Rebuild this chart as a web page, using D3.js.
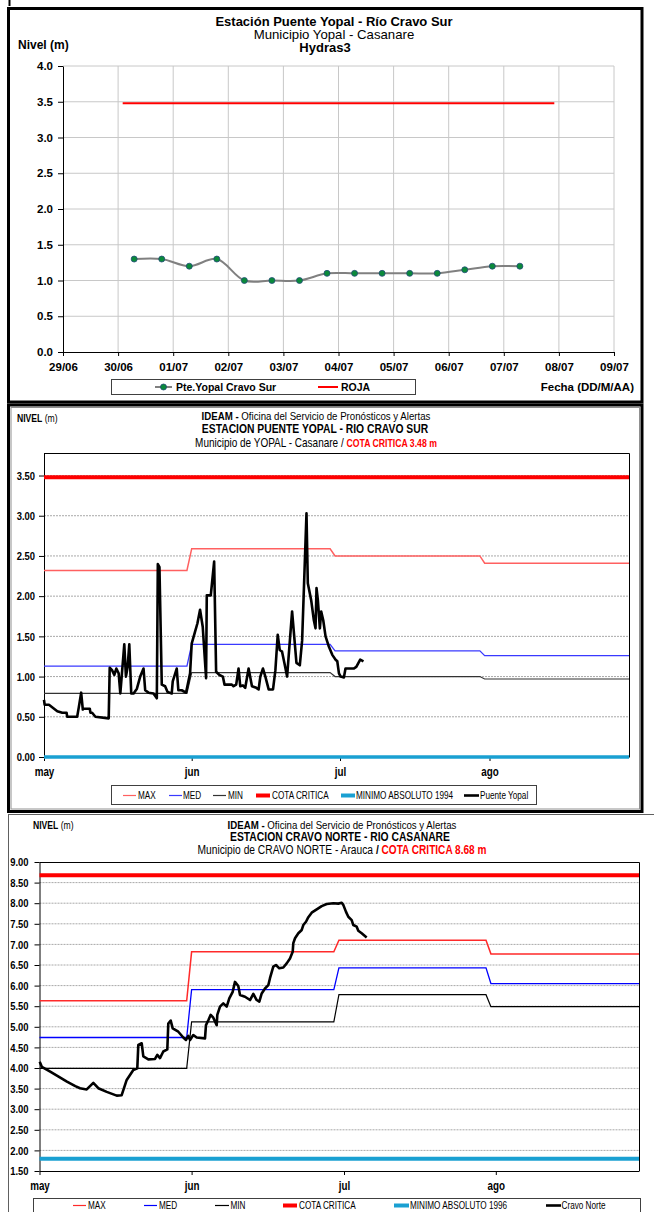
<!DOCTYPE html>
<html><head><meta charset="utf-8">
<script src="https://cdn.jsdelivr.net/npm/d3@7"></script>
<style>
body{margin:0;background:#fff}
svg{display:block}
.arial{font-family:"Liberation Sans",Arial,sans-serif}
.narrow{font-family:"Liberation Sans",Arial,sans-serif}
</style></head><body>
<svg id="c" width="654" height="1212"></svg>
<script>
// ---------------- Panel 1 data (Hydras3) ----------------
const p1Dates = ["2012-06-30T07:00","2012-06-30T19:00","2012-07-01T07:00","2012-07-01T19:00",
  "2012-07-02T07:00","2012-07-02T19:00","2012-07-03T07:00","2012-07-03T19:00","2012-07-04T07:00",
  "2012-07-04T19:00","2012-07-05T07:00","2012-07-05T19:00","2012-07-06T07:00","2012-07-06T19:00",
  "2012-07-07T07:00"];
const p1Values = [1.3,1.3,1.2,1.3,1.0,1.0,1.0,1.1,1.1,1.1,1.1,1.1,1.15,1.2,1.2];
const p1RojaDates = ["2012-06-30T02:00","2012-07-07T22:00"];
const p1RojaValue = 3.48;
const p1YTicks = [0,0.5,1,1.5,2,2.5,3,3.5,4];
const p1XDomain = ["2012-06-29T00:00","2012-07-09T00:00"];

// ---------------- shared month axis (days since 1 May) ----------------
const monthTickDays = [0,31,61,92];
const monthLabels = ["may","jun","jul","ago"];
const statDays = [0,30,31,59,60,90,91,121];

// ---------------- Panel 2 data (Puente Yopal) ----------------
const p2Max = [2.32,2.59,2.50,2.41];
const p2Med = [1.13,1.40,1.32,1.26];
const p2Min = [0.79,1.05,1.00,0.97];
const p2Cota = 3.48;
const p2Minimo = 0.0;
const p2YTicks = [0,0.5,1,1.5,2,2.5,3,3.5];
const p2Days = [0.00,0.14,1.04,2.79,3.83,4.74,4.87,6.96,7.31,7.80,8.15,8.36,9.61,9.75,10.10,10.79,
  13.58,13.79,14.28,14.76,15.18,15.67,16.02,16.36,16.85,17.20,17.55,17.90,18.31,18.80,19.50,20.19,
  20.89,21.24,21.94,22.98,23.68,23.89,24.23,24.72,25.42,25.91,26.81,27.02,27.86,28.20,28.90,29.81,
  30.66,31.00,31.68,32.15,32.69,33.23,33.91,34.05,34.86,35.54,35.94,36.62,37.30,37.64,39.12,39.46,
  40.00,40.48,40.82,41.36,41.83,42.51,43.19,44.07,44.54,44.88,45.42,45.90,46.57,47.45,47.93,48.40,
  48.81,49.28,49.75,50.30,51.31,52.19,52.87,53.34,54.22,54.49,55.17,55.71,56.05,56.25,56.52,56.93,
  57.20,57.61,58.08,58.76,59.44,60.11,60.45,60.79,61.13,61.81,62.14,63.16,63.84,64.38,65.19,65.87];
const p2Levels = [0.71,0.65,0.65,0.57,0.55,0.55,0.50,0.50,0.62,0.80,0.59,0.60,0.60,0.55,0.55,0.50,
  0.48,1.11,1.08,1.02,1.10,1.04,0.79,1.04,1.40,1.00,1.12,1.40,0.79,0.79,0.85,1.00,
  1.10,0.83,0.80,0.79,0.73,2.40,2.36,0.90,0.88,0.81,0.79,0.94,1.10,0.83,0.83,0.80,
  1.04,1.41,1.56,1.66,1.83,1.62,0.98,2.01,2.01,2.43,1.06,1.02,1.00,0.90,0.90,0.88,
  0.90,1.10,0.88,0.89,0.86,1.10,0.88,0.86,0.84,1.00,1.10,1.00,0.84,0.84,1.08,1.52,
  1.33,1.31,1.17,1.00,1.81,1.17,1.14,1.45,3.03,2.16,1.95,1.70,1.60,2.10,1.95,1.60,
  1.81,1.70,1.50,1.37,1.27,1.21,1.19,1.04,1.00,0.99,1.10,1.10,1.10,1.12,1.21,1.19];

// ---------------- Panel 3 data (Cravo Norte) ----------------
const p3Max = [5.63,6.82,7.10,6.77];
const p3Med = [4.74,5.90,6.43,6.05];
const p3Min = [3.99,5.12,5.78,5.49];
const p3Cota = 8.68;
const p3Minimo = 1.80;
const p3YTicks = [1.5,2,2.5,3,3.5,4,4.5,5,5.5,6,6.5,7,7.5,8,8.5,9];
const p3Days = [0.04,0.47,2.18,3.89,5.59,7.30,8.26,9.62,10.97,11.99,13.70,15.74,16.75,17.77,19.12,19.93,
  20.14,20.83,21.16,22.18,23.54,24.01,24.56,25.23,26.05,26.25,26.74,27.15,28.29,29.31,29.86,30.33,
  30.68,31.33,32.00,33.64,33.83,34.29,34.76,35.27,35.94,36.06,36.59,37.24,37.91,38.42,39.09,39.54,
  40.19,40.53,41.51,42.50,43.15,43.81,44.33,44.80,45.45,46.10,46.43,47.08,47.61,48.26,49.05,49.72,
  50.37,50.90,51.02,51.36,52.01,52.68,52.99,53.52,53.98,54.64,55.63,56.61,57.60,58.90,59.88,60.55,
  60.86,61.41,61.88,62.57,62.90,63.59,63.92,64.61,65.63];
const p3Levels = [4.15,4.03,3.91,3.79,3.67,3.56,3.51,3.48,3.64,3.51,3.42,3.33,3.34,3.71,3.95,3.99,
  4.56,4.60,4.28,4.21,4.22,4.32,4.24,4.40,4.45,5.08,5.15,4.96,4.88,4.74,4.68,4.78,
  4.68,4.80,4.74,4.72,5.04,5.16,5.29,5.22,5.04,5.29,5.49,5.57,5.49,5.69,5.85,6.09,
  5.99,5.77,5.73,5.65,5.80,5.65,5.61,5.81,5.93,6.01,6.18,6.46,6.50,6.42,6.44,6.54,
  6.66,6.82,7.03,7.15,7.27,7.35,7.47,7.55,7.66,7.77,7.85,7.93,7.98,8.00,7.99,8.01,
  7.96,7.79,7.67,7.59,7.47,7.43,7.33,7.27,7.17];

// ======================================================================
const NARROW = 0.82;
const svg = d3.select("#c");
svg.append("rect").attr("width",654).attr("height",1212).attr("fill","#fff");
const parse = d3.timeParse("%Y-%m-%dT%H:%M");

function styleAxis(g, cls, size, weight){
  g.attr("class",cls).attr("font-size",size).attr("font-weight",weight)
   .attr("font-family",null);
  g.select(".domain").attr("stroke","#000");
  g.selectAll(".tick line").attr("stroke","#000");
  g.selectAll(".tick text").attr("fill","#000");
}

// ---------------- Panel 1 ----------------
(function(){
  const g = svg.append("g").attr("class","arial");
  const x = d3.scaleTime().domain(p1XDomain.map(parse)).range([63,614]);
  const y = d3.scaleLinear().domain([0,4]).range([352,66]);
  // frame
  g.append("line").attr("x1",9.5).attr("x2",9.5).attr("y1",0).attr("y2",6).attr("stroke","#000").attr("stroke-width",2);
  g.append("rect").attr("x",8.5).attr("y",8.5).attr("width",633.5).attr("height",393.5)
    .attr("fill","none").attr("stroke","#000").attr("stroke-width",3);
  // grid
  g.selectAll("line.hg").data(p1YTicks.filter(d=>d>0)).join("line").attr("class","hg")
    .attr("x1",63).attr("x2",614).attr("y1",d=>y(d)).attr("y2",d=>y(d)).attr("stroke","#c8c8c8");
  const days = d3.timeDay.range(x.domain()[0], d3.timeDay.offset(x.domain()[1],1));
  g.selectAll("line.vg").data(days.slice(1)).join("line").attr("class","vg")
    .attr("x1",d=>x(d)).attr("x2",d=>x(d)).attr("y1",66).attr("y2",352).attr("stroke","#c8c8c8");
  // axes
  const ya = g.append("g").attr("transform","translate(63,0)")
    .call(d3.axisLeft(y).tickValues(p1YTicks).tickFormat(d3.format(".1f")).tickSize(5).tickSizeOuter(0).tickPadding(5));
  styleAxis(ya,"arial",11.5,"bold");
  const xa = g.append("g").attr("transform","translate(0,352)")
    .call(d3.axisBottom(x).tickValues(days).tickFormat(d3.timeFormat("%d/%m")).tickSize(4).tickSizeOuter(0).tickPadding(7));
  styleAxis(xa,"arial",11.5,"bold");
  // ROJA
  g.append("line").attr("x1",x(parse(p1RojaDates[0]))).attr("x2",x(parse(p1RojaDates[1])))
    .attr("y1",y(p1RojaValue)).attr("y2",y(p1RojaValue)).attr("stroke","#ff0000").attr("stroke-width",2);
  // series
  const pts = p1Dates.map((d,i)=>({d:parse(d),v:p1Values[i]}));
  g.append("path").datum(pts).attr("fill","none").attr("stroke","#808080").attr("stroke-width",2)
    .attr("d",d3.line().x(d=>x(d.d)).y(d=>y(d.v)).curve(d3.curveCatmullRom.alpha(0.5)));
  g.selectAll("circle.pt").data(pts).join("circle").attr("class","pt")
    .attr("cx",d=>x(d.d)).attr("cy",d=>y(d.v)).attr("r",3)
    .attr("fill","#0a8a3a").attr("stroke","#234a78").attr("stroke-width",0.8);
  // titles
  const t = g.append("g").attr("fill","#000");
  t.append("text").attr("x",334).attr("y",25.5).attr("text-anchor","middle").attr("font-size",13).attr("font-weight","bold")
    .text("Estación Puente Yopal  - Río Cravo Sur");
  t.append("text").attr("x",334).attr("y",38.5).attr("text-anchor","middle").attr("font-size",13.2)
    .text("Municipio Yopal - Casanare");
  t.append("text").attr("x",325).attr("y",51.5).attr("text-anchor","middle").attr("font-size",13).attr("font-weight","bold")
    .text("Hydras3");
  t.append("text").attr("x",18).attr("y",49).attr("font-size",12).attr("font-weight","bold").text("Nivel (m)");
  t.append("text").attr("x",634).attr("y",391).attr("text-anchor","end").attr("font-size",11.5).attr("font-weight","bold")
    .text("Fecha (DD/M/AA)");
  // legend
  g.append("rect").attr("x",111.5).attr("y",379.5).attr("width",304).attr("height",15)
    .attr("fill","#fff").attr("stroke","#404040");
  g.append("line").attr("x1",155).attr("x2",172).attr("y1",387).attr("y2",387).attr("stroke","#808080").attr("stroke-width",2);
  g.append("circle").attr("cx",163.5).attr("cy",387).attr("r",3).attr("fill","#0a8a3a").attr("stroke","#234a78").attr("stroke-width",0.8);
  g.append("text").attr("x",176).attr("y",391).attr("font-size",10.5).attr("font-weight","bold").text("Pte.Yopal Cravo Sur");
  g.append("line").attr("x1",318).attr("x2",338).attr("y1",387).attr("y2",387).attr("stroke","#ff0000").attr("stroke-width",2);
  g.append("text").attr("x",341).attr("y",391).attr("font-size",10.5).attr("font-weight","bold").text("ROJA");
})();

// ---------------- generic IDEAM panel ----------------
function statSeries(vals){ return statDays.map((d,i)=>({d:d, v:vals[Math.floor(i/2)]})); }

function ideamPanel(cfg){
  const g = svg.append("g").attr("class","narrow");
  const x = d3.scaleLinear().domain([0,31,61,92,121]).range(cfg.xr);
  const y = d3.scaleLinear().domain(cfg.yd).range(cfg.yr);
  const L = cfg.xr[0], R = cfg.xr[cfg.xr.length-1], T = cfg.yr[1], B = cfg.yr[0];
  // grid
  g.selectAll("line.hg").data(cfg.yTicks.filter(d=>d>cfg.yd[0] && y(d)>T+1)).join("line").attr("class","hg")
    .attr("x1",L).attr("x2",R).attr("y1",d=>y(d)).attr("y2",d=>y(d))
    .attr("stroke","#a8a8a8").attr("stroke-dasharray","2,1");
  // plot box top/right
  g.append("path").attr("d",`M${L},${T+0.5}H${R+0.5}V${B}`).attr("fill","none").attr("stroke","#000");
  // axes
  const ya = g.append("g").attr("transform",`translate(${L},0)`)
    .call(d3.axisLeft(y).tickValues(cfg.yTicks).tickFormat(d3.format(".2f")).tickSize(5).tickSizeOuter(0).tickPadding(cfg.yPad));
  styleAxis(ya,"narrow",11.5,"bold");
  const xa = g.append("g").attr("transform",`translate(0,${B})`)
    .call(d3.axisBottom(x).tickValues(monthTickDays).tickFormat((d,i)=>monthLabels[i]).tickSize(4).tickSizeOuter(0).tickPadding(6));
  styleAxis(xa,"narrow",12,"bold");
  const line = d3.line().x(d=>x(d.d)).y(d=>y(d.v));
  // stat lines
  [[cfg.max,cfg.cMax,1.5],[cfg.med,cfg.cMed,1.3],[cfg.min,cfg.cMin,1.2]].forEach(([vals,col,w])=>{
    g.append("path").datum(statSeries(vals)).attr("fill","none").attr("stroke",col).attr("stroke-width",w).attr("d",line);
  });
  g.append("line").attr("x1",L).attr("x2",R).attr("y1",y(cfg.cota)).attr("y2",y(cfg.cota))
    .attr("stroke","#ff0000").attr("stroke-width",4);
  g.append("line").attr("x1",L).attr("x2",R).attr("y1",y(cfg.minimo)).attr("y2",y(cfg.minimo))
    .attr("stroke","#1aa0d2").attr("stroke-width",cfg.minW);
  // observed
  g.append("path").datum(cfg.days.map((d,i)=>({d:d,v:cfg.levels[i]}))).attr("fill","none")
    .attr("stroke","#000").attr("stroke-width",2.6).attr("stroke-linejoin","round").attr("d",line);
  // legend
  const lg = cfg.legend;
  g.append("rect").attr("x",lg.box[0]).attr("y",lg.box[1]).attr("width",lg.box[2]).attr("height",lg.box[3])
    .attr("fill","#fff").attr("stroke","#404040");
  const items = [
    ["MAX",cfg.cMax,1.2],["MED",cfg.cMed,1.2],["MIN",cfg.cMin,1.2],
    ["COTA CRITICA","#ff0000",4],[lg.minLabel,"#1aa0d2",4],[lg.obsLabel,"#000",2.6]];
  items.forEach((it,i)=>{
    g.append("line").attr("x1",lg.lx[i][0]).attr("x2",lg.lx[i][1]).attr("y1",lg.y).attr("y2",lg.y)
      .attr("stroke",it[1]).attr("stroke-width",it[2]);
    g.append("text").attr("x",lg.tx[i]).attr("y",lg.y+3.5).attr("font-size",10).text(it[0]);
  });
  // titles
  const tt = cfg.title;
  const n = g.append("text").attr("x",tt.nx).attr("y",tt.ny).attr("font-size",10.5);
  n.append("tspan").attr("font-weight","bold").text("NIVEL");
  n.append("tspan").text(" (m)");
  const l1 = g.append("text").attr("x",tt.cx).attr("y",tt.y[0]).attr("text-anchor","middle").attr("font-size",11.8);
  l1.append("tspan").attr("font-weight","bold").text("IDEAM - ");
  l1.append("tspan").text("Oficina del Servicio de Pronósticos y Alertas");
  g.append("text").attr("x",tt.cx2).attr("y",tt.y[1]).attr("text-anchor","middle").attr("font-size",12.6)
    .attr("font-weight","bold").text(tt.station);
  const l3 = g.append("text").attr("x",tt.cx3).attr("y",tt.y[2]).attr("text-anchor","middle").attr("font-size",tt.muniSize);
  l3.append("tspan").text(tt.muni);
  l3.append("tspan").attr("font-weight",tt.slashBold?"bold":"normal").text("  /  ");
  l3.append("tspan").attr("font-weight","bold").attr("fill","#ff0000").attr("font-size",tt.cotaSize).text(tt.cotaText);
  return g;
}

// panel 2 frame
svg.append("rect").attr("x",8.5).attr("y",405).attr("width",633.5).attr("height",406.5)
  .attr("fill","none").attr("stroke","#000").attr("stroke-width",3);
svg.append("rect").attr("x",11).attr("y",407.5).attr("width",628.5).attr("height",401.5)
  .attr("fill","none").attr("stroke","#909090").attr("stroke-width",1);

ideamPanel({
  xr:[44,191.7,340,489.5,629], yd:[0,3.78], yr:[757,453], yTicks:p2YTicks, yPad:4,
  max:p2Max, med:p2Med, min:p2Min, cMax:"#ff6060", cMed:"#3a3aff", cMin:"#333333",
  cota:p2Cota, minimo:p2Minimo, minW:3.5, days:p2Days, levels:p2Levels,
  legend:{box:[111.5,785.5,425,19], y:795.5,
    lx:[[123,136],[169,182],[213,226],[256,270],[341,355],[464,479]],
    tx:[138,183,228,272,356,480], minLabel:"MINIMO ABSOLUTO 1994", obsLabel:"Puente Yopal"},
  title:{nx:17, ny:422, cx:316, cx2:315, cx3:316, y:[420,433,447],
    station:"ESTACION PUENTE YOPAL - RIO CRAVO SUR", muni:"Municipio de YOPAL - Casanare",
    muniSize:12.2, slashBold:false, cotaText:"COTA CRITICA 3.48 m", cotaSize:10.6}
});

// panel 3 frame
svg.append("rect").attr("x",8.5).attr("y",814.5).attr("width",700).attr("height",500)
  .attr("fill","none").attr("stroke","#606060").attr("stroke-width",1);

ideamPanel({
  xr:[39.5,191.6,344,495.8,639], yd:[1.5,9], yr:[1171,862], yTicks:p3YTicks, yPad:6,
  max:p3Max, med:p3Med, min:p3Min, cMax:"#ff2a2a", cMed:"#0000ff", cMin:"#000000",
  cota:p3Cota, minimo:p3Minimo, minW:4, days:p3Days, levels:p3Levels,
  legend:{box:[33.5,1198.5,607,30], y:1205.5,
    lx:[[73,86],[144,157],[215,229],[283,297],[394,409],[546,561]],
    tx:[88,159,230.5,299,410,561.5], minLabel:"MINIMO ABSOLUTO 1996", obsLabel:"Cravo Norte"},
  title:{nx:33, ny:829, cx:342, cx2:340, cx3:342, y:[829.5,841,854],
    station:"ESTACION CRAVO NORTE - RIO CASANARE", muni:"Municipio de CRAVO NORTE - Arauca",
    muniSize:12.5, slashBold:true, cotaText:"COTA CRITICA 8.68 m", cotaSize:12.3}
});

// condense every text of the IDEAM panels (Arial Narrow look) around its anchor
svg.selectAll(".narrow text").each(function(){
  const x0 = +this.getAttribute("x") || 0;
  this.setAttribute("transform", `translate(${x0},0) scale(${NARROW},1) translate(${-x0},0)`);
});
</script>
</body></html>
